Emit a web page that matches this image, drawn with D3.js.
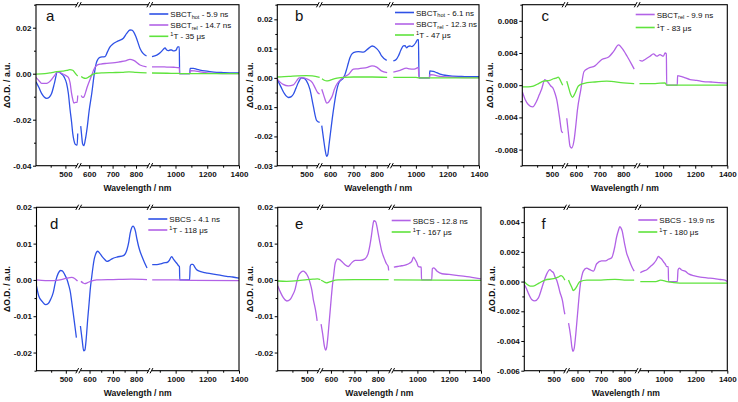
<!DOCTYPE html>
<html><head><meta charset="utf-8">
<script src="https://cdn.jsdelivr.net/npm/d3@7"></script>
<style>body{margin:0;background:#fff}svg{display:block}</style>
</head><body><svg id="c" width="738" height="402"></svg>
<script>
// ---------- x-axis segments (broken axis) ----------
const X_SEG1 = [400, 545], X_SEG2 = [555, 860], X_SEG3 = [840, 1400];
const X_TICKS = [[500], [600, 700, 800], [1000, 1200, 1400]];
const X_MINOR = [[450], [650, 750], [900, 1100, 1300]];

// ---------- panel a ----------
const aHotWl = [400,410,420,436,445,453,463,473,480,487,496,504,510,516,521,525,529,533,538,540,542,
  564,568,572,577,583,592,600,611,622,630,638,646,657,668,678,689,700,717,730,746,760,774,782,789,800,817,830,845,
  852,882,905,924,934,945,955,966,976,987,997,1006,1014,1024,1026,1090,1092,1113,1135,1154,1185,1217,1260,1300,1364,1400];
const aHotVal = [-0.0035,-0.006,-0.0088,-0.0107,-0.0102,-0.0086,-0.004,0.0009,0.0006,-0.0001,-0.0015,-0.0042,-0.0085,-0.0158,-0.021,-0.026,-0.029,-0.0306,-0.031,-0.031,-0.026,
  -0.0228,-0.027,-0.0305,-0.0313,-0.029,-0.023,-0.016,-0.0086,0.0,0.0045,0.0064,0.0071,0.0073,0.0074,0.0095,0.0117,0.0128,0.0139,0.0145,0.0154,0.0175,0.019,0.0189,0.0183,0.016,0.011,0.0088,0.0077,
  0.0074,0.0081,0.0092,0.0106,0.0112,0.0103,0.0100,0.0103,0.0103,0.0099,0.0100,0.0105,0.0117,0.0117,0.0,0.0,0.0023,0.0023,0.0019,0.0016,0.0012,0.0009,0.0006,0.0005,0.0004,0.0004];
const aRelWl = [400,410,419,436,453,463,473,485,499,510,516,521,525,529,534,540,542,
  566,572,578,585,592,600,611,620,632,650,675,700,732,755,774,790,817,845,
  852,900,945,990,1024,1026,1090,1092,1120,1154,1200,1259,1330,1400];
const aRelVal = [-0.0016,-0.003,-0.0042,-0.0042,-0.0025,-0.0008,0.0009,0.0003,-0.0006,-0.0016,-0.004,-0.0086,-0.0112,-0.0128,-0.0125,-0.0125,-0.0095,
  -0.0095,-0.0103,-0.0100,-0.008,-0.0057,-0.0035,-0.0006,0.0018,0.0036,0.0042,0.0045,0.0047,0.0052,0.0056,0.0062,0.0058,0.0038,0.003,
  0.003,0.003,0.0029,0.0028,0.0026,0.0,0.0,0.0013,0.0012,0.0008,0.0004,0.0001,0.0,0.0];
const aTWl = [400,430,450,470,490,505,515,525,532,538,542,
  566,575,585,600,615,630,660,700,740,770,800,845,
  852,950,1024,1026,1400];
const aTVal = [-0.0002,0.0,0.0004,0.0009,0.0011,0.0014,0.0018,0.0015,0.0005,-0.0005,-0.001,
  -0.0012,-0.0018,-0.002,-0.0013,-0.0003,0.0002,0.0004,0.0005,0.0006,0.0008,0.0006,0.0004,
  0.0003,0.0002,0.0001,0.0,0.0];
const aYTicks = [-0.04, -0.02, 0, 0.02];
const aYMinor = [-0.03, -0.01, 0.01, 0.03];

// ---------- panel b ----------
const bHotWl = [400,412,425,438,448,455,464,472,483,492,500,512,523,535,545,
  564,572,578,585,590,595,602,609,617,624,638,657,664,671,678,685,700,721,743,764,781,800,812,821,843,
  857,875,889,905,920,931,941,952,962,975,984,999,1011,1016,1020,1086,1088,1110,1131,1160,1184,1230,1290,1350,1400];
const bHotVal = [-0.0005,-0.003,-0.0055,-0.0067,-0.0064,-0.0056,-0.0035,-0.0016,0.0,-0.0002,-0.001,-0.004,-0.0095,-0.0146,-0.0152,
  -0.0163,-0.021,-0.0243,-0.0268,-0.0262,-0.023,-0.0185,-0.014,-0.0095,-0.006,-0.0016,0.0,0.0012,0.003,0.005,0.0069,0.0086,0.009,0.0088,0.010,0.0109,0.010,0.0088,0.0075,0.006,
  0.0058,0.0063,0.0075,0.0095,0.0109,0.011,0.0103,0.0108,0.0109,0.0107,0.011,0.012,0.0131,0.013,0.0,0.0,0.0024,0.0022,0.0018,0.0012,0.0009,0.0006,0.0005,0.0004,0.0004];
const bRelWl = [400,420,438,455,466,475,490,505,520,530,538,545,
  564,572,578,585,592,600,610,618,625,640,660,680,700,720,740,760,780,800,820,845,
  857,900,940,960,980,1000,1015,1020,1086,1088,1110,1150,1250,1400];
const bRelVal = [-0.0005,-0.0022,-0.0027,-0.0024,-0.001,0.0,0.0,-0.0005,-0.0016,-0.0035,-0.005,-0.0055,
  -0.0039,-0.0058,-0.0073,-0.0086,-0.0084,-0.0075,-0.006,-0.004,-0.0027,-0.001,0.0003,0.0012,0.003,0.0031,0.0033,0.0036,0.0041,0.0037,0.0024,0.0018,
  0.002,0.0026,0.0033,0.0031,0.003,0.0032,0.0036,0.0,0.0,0.0011,0.001,0.0005,0.0002,0.0001];
const bTWl = [400,440,470,500,520,545, 565,575,585,595,610,630,660,700,780,845, 857,1000,1020,1400];
const bTVal = [0.0003,0.0005,0.0007,0.0008,0.0007,0.0002, -0.0003,-0.0008,-0.001,-0.0009,-0.0005,-0.0001,0.0002,0.0003,0.0003,0.0002, 0.0002,0.0002,0.0,0.0];
const bYTicks = [-0.03, -0.02, -0.01, 0, 0.01, 0.02];
const bYMinor = [-0.025, -0.015, -0.005, 0.005, 0.015, 0.025];

// ---------- panel c ----------
const cRelWl = [400,410,420,435,448,457,465,476,488,496,504,510,516,525,533,537,
  561,568,575,582,592,600,606,620,634,652,680,709,738,759,780,794,816,837,846,
  852,870,887,918,939,960,980,1001,1012,1020,1022,1088,1090,1110,1126,1168,1210,1250,1300,1375,1400];
const cRelVal = [-0.0008,-0.0018,-0.0024,-0.0027,-0.002,-0.0012,-0.0005,0.0007,0.0003,-0.0001,-0.0004,-0.0010,-0.0018,-0.0039,-0.0058,-0.0059,
  -0.0041,-0.006,-0.0076,-0.0078,-0.0068,-0.0048,-0.0031,-0.0006,0.0017,0.0021,0.0024,0.0032,0.0035,0.0042,0.005,0.0046,0.0036,0.0025,0.002,
  0.0031,0.003,0.0032,0.0036,0.0039,0.0036,0.0038,0.0036,0.004,0.0039,0.0,0.0,0.0012,0.0011,0.001,0.0007,0.0006,0.00045,0.0004,0.0003,0.00025];
const cTWl = [400,420,437,455,471,493,505,516,521,527,532,536, 561,568,578,585,596,610,631,680,730,800,846, 852,950,1012,1022,1400];
const cTVal = [-0.0002,-0.0002,-0.0001,0.0002,0.0005,0.0006,0.0008,0.0009,0.001,0.0007,0.0003,0.0,
  0.0005,-0.0002,-0.0012,-0.0015,-0.001,-0.0001,0.0002,0.0004,0.0005,0.0003,0.0002, 0.0002,0.0002,0.0003,0.0,0.0];
const cYTicks = [-0.008, -0.004, 0, 0.004, 0.008];
const cYMinor = [-0.01, -0.006, -0.002, 0.002, 0.006, 0.01];

// ---------- panel d ----------
const dCsWl = [400,408,420,431,440,448,457,465,474,482,488,496,504,510,516,520,525,529,533,536,
  561,568,575,580,586,592,598,603,610,615,620,625,635,644,653,664,675,686,696,717,745,760,768,774,780,786,792,796,803,810,817,824,835,846,
  852,882,910,924,945,960,970,976,985,997,1010,1018,1024,1026,1088,1092,1100,1109,1120,1133,1150,1175,1200,1238,1280,1322,1360,1400];
const dCsVal = [-0.0017,-0.0045,-0.006,-0.0068,-0.0065,-0.0054,-0.0035,-0.0004,0.0018,0.0026,0.0025,0.0015,0.0001,-0.0015,-0.0036,-0.006,-0.009,-0.0115,-0.014,-0.0159,
  -0.0127,-0.0163,-0.0195,-0.0193,-0.016,-0.0109,-0.0065,-0.0026,0.0012,0.0037,0.0057,0.0069,0.0079,0.0073,0.0065,0.0057,0.0051,0.0054,0.0058,0.0063,0.0067,0.0083,0.0105,0.0129,0.0143,0.0148,0.0143,0.0135,0.0112,0.0092,0.0077,0.0065,0.0048,0.0033,
  0.0042,0.0042,0.0045,0.0047,0.0048,0.0054,0.0062,0.0064,0.0058,0.0051,0.0044,0.0039,0.0037,0.0,0.0,0.0038,0.0043,0.0043,0.0036,0.0028,0.0024,0.0021,0.0019,0.0016,0.0013,0.001,0.0008,0.0005];
const dTWl = [400,430,460,480,500,520,530,536,540, 563,572,580,590,600,615,630,700,780,846, 852,1000,1100,1400];
const dTVal = [0.0,-0.0002,-0.0002,0.0,0.0004,0.0007,0.0004,0.0,-0.0003, -0.0004,-0.0008,-0.001,-0.0008,-0.0005,-0.0002,0.0,0.0001,0.0002,0.0001, 0.0,0.0,-0.0001,-0.0002];
const dYTicks = [-0.02, -0.01, 0, 0.01, 0.02];
const dYMinor = [-0.025, -0.015, -0.005, 0.005, 0.015];

// ---------- panel e ----------
const eCsWl = [400,410,419,431,442,450,459,465,470,479,487,493,499,505,510,516,521,526,530,534,
  558,565,572,578,582,586,591,596,601,606,612,617,623,629,637,646,660,674,688,703,724,745,759,766,773,778,783,791,796,801,808,815,822,829,836,844,846,
  852,875,901,932,950,964,972,976,985,996,1006,1013,1024,1026,1090,1094,1103,1124,1155,1200,1258,1300,1342,1400];
const eCsVal = [-0.0016,-0.0035,-0.0049,-0.0058,-0.0054,-0.0043,-0.0026,-0.0005,0.001,0.0021,0.0024,0.0021,0.0015,0.0005,-0.0008,-0.0028,-0.0054,-0.0073,-0.009,-0.0113,
  -0.0122,-0.015,-0.0182,-0.0193,-0.0185,-0.0163,-0.0127,-0.009,-0.0052,-0.0017,0.0015,0.0042,0.0054,0.0058,0.0056,0.0051,0.0042,0.0037,0.0047,0.0054,0.0054,0.0058,0.0074,0.0095,0.0124,0.0148,0.0163,0.016,0.0147,0.0129,0.0105,0.0083,0.0068,0.0056,0.0045,0.0037,0.0026,
  0.0035,0.0037,0.0039,0.0042,0.0046,0.0051,0.006,0.0063,0.0057,0.0048,0.0037,0.0036,0.0035,0.0,0.0,0.0031,0.0033,0.0024,0.0017,0.0015,0.0012,0.001,0.0007,0.0003];
const eTWl = [400,430,470,500,520,535,545, 558,570,580,592,605,630,700,846, 852,1400];
const eTVal = [-0.0003,-0.0004,-0.0002,0.0001,0.0002,0.0003,0.0001, -0.0001,-0.0005,-0.0008,-0.0006,-0.0003,0.0,0.0001,0.0001, 0.0,-0.0001];
const eYTicks = [-0.02, -0.01, 0, 0.01, 0.02];
const eYMinor = [-0.025, -0.015, -0.005, 0.005, 0.015];

// ---------- panel f ----------
const fCsWl = [400,408,414,425,436,448,457,465,476,487,493,499,505,510,516,521,530,535,538,
  562,571,576,581,586,593,598,603,608,613,619,625,639,653,668,682,703,720,732,746,760,767,774,781,786,791,797,803,810,817,832,842,
  852,872,893,914,935,950,960,966,976,987,1000,1008,1019,1028,1030,1085,1090,1098,1110,1134,1160,1187,1230,1271,1320,1355,1385,1400];
const fCsVal = [-0.0002,-0.0005,-0.0008,-0.0012,-0.0013,-0.0011,-0.0006,-0.0001,0.0005,0.0008,0.0007,0.0006,0.0003,0.0001,-0.0003,-0.0007,-0.0013,-0.0019,-0.0022,
  -0.0028,-0.0037,-0.0044,-0.0047,-0.0045,-0.0035,-0.0026,-0.0017,-0.0008,-0.0001,0.0004,0.0007,0.0009,0.0008,0.0007,0.0012,0.0014,0.0014,0.0015,0.0016,0.0024,0.003,0.0034,0.0037,0.0036,0.0034,0.0029,0.0024,0.0019,0.0016,0.001,0.0007,
  0.0006,0.0007,0.0008,0.001,0.0012,0.0014,0.0016,0.0017,0.0016,0.0015,0.0013,0.0012,0.001,0.001,0.0,0.0,0.0008,0.0009,0.0008,0.0007,0.0005,0.0004,0.0003,0.00025,0.0002,0.00014,0.0001,0.0];
const fTWl = [400,410,420,430,450,470,500,515,525,532,538, 562,570,576,582,590,598,610,640,700,760,800,842, 852,950,980,1020,1100,1400];
const fTVal = [0.0,-0.0002,-0.0003,-0.0003,-0.0001,0.0001,0.0002,0.0003,0.0004,0.0003,0.0001,
  0.0001,-0.0002,-0.0004,-0.0006,-0.0005,-0.0003,0.0,0.0001,0.0001,0.00015,0.0001,0.0001, 0.0,0.0,0.0001,0.0,-0.0001,-0.0001];
const fYTicks = [-0.006, -0.004, -0.002, 0, 0.002, 0.004];
const fYMinor = [-0.005, -0.003, -0.001, 0.001, 0.003, 0.005];

// ---------- legend labels ----------
const BLUE = '#2f52e6', PURPLE = '#b262e6', GREEN = '#5fe33d';
const sbct = (sub, t) => [{t:'SBCT'}, {t:sub, sub:true}, {t:' - ' + t}];
const trip = t => [{t:'1', sup:true}, {t:'T - ' + t}];
const sbcs = t => [{t:'SBCS - ' + t}];

const FR = [0.21, 0.352, 0.438];
const panels = [
  {id:'a', x0:36, x1:239, y0:4.7, y1:165.7, yDom:[-0.04,0.03], yT:aYTicks, yM:aYMinor, fmt:'.2f', lx:46, ly:21, tx:7,
   leg:{x:149.3, rows:[14,25,36.3]},
   series:[{wl:aHotWl,v:aHotVal,c:BLUE,lab:sbct('hot','5.9 ns')},{wl:aRelWl,v:aRelVal,c:PURPLE,lab:sbct('rel','14.7 ns')},{wl:aTWl,v:aTVal,c:GREEN,lab:trip('35 \u03bcs')}]},
  {id:'b', x0:277.3, x1:479, y0:4.7, y1:165.7, yDom:[-0.03,0.025], yT:bYTicks, yM:bYMinor, fmt:'.2f', lx:295, ly:21, tx:250,
   leg:{x:395, rows:[12.5,24,35]},
   series:[{wl:bHotWl,v:bHotVal,c:BLUE,lab:sbct('hot','6.1 ns')},{wl:bRelWl,v:bRelVal,c:PURPLE,lab:sbct('rel','12.3 ns')},{wl:bTWl,v:bTVal,c:GREEN,lab:trip('47 \u03bcs')}]},
  {id:'c', x0:522.3, x1:727.3, y0:4.7, y1:165.7, yDom:[-0.01,0.01], yT:cYTicks, yM:cYMinor, fmt:'.3f', lx:541.5, ly:21, tx:490,
   leg:{x:635.7, rows:[14.5,27.5]},
   series:[{wl:cRelWl,v:cRelVal,c:PURPLE,lab:sbct('rel','9.9 ns')},{wl:cTWl,v:cTVal,c:GREEN,lab:trip('83 \u03bcs')}]},
  {id:'d', x0:36.5, x1:239, y0:207.3, y1:370.7, yDom:[-0.025,0.02], yT:dYTicks, yM:dYMinor, fmt:'.2f', lx:50, ly:228.5, tx:7,
   leg:{x:148.3, rows:[219,230]},
   series:[{wl:dCsWl,v:dCsVal,c:BLUE,lab:sbcs('4.1 ns')},{wl:dTWl,v:dTVal,c:PURPLE,lab:trip('118 \u03bcs')}]},
  {id:'e', x0:277.7, x1:481, y0:207.3, y1:370.7, yDom:[-0.025,0.02], yT:eYTicks, yM:eYMinor, fmt:'.2f', lx:295, ly:228.5, tx:250,
   leg:{x:391.7, rows:[220.5,232]},
   series:[{wl:eCsWl,v:eCsVal,c:PURPLE,lab:sbcs('12.8 ns')},{wl:eTWl,v:eTVal,c:GREEN,lab:trip('167 \u03bcs')}]},
  {id:'f', x0:524.3, x1:727.3, y0:207.3, y1:370.7, yDom:[-0.006,0.005], yT:fYTicks, yM:fYMinor, fmt:'.3f', lx:541.5, ly:228.5, tx:492,
   leg:{x:638.3, rows:[220,232]},
   series:[{wl:fCsWl,v:fCsVal,c:PURPLE,lab:sbcs('19.9 ns')},{wl:fTWl,v:fTVal,c:GREEN,lab:trip('180 \u03bcs')}]}
];

const FONT = '"Liberation Sans", Arial, Helvetica, sans-serif';
const svg = d3.select('#c');
const defs = svg.append('defs');
const segOf = w => w <= 550 ? 0 : (w <= 848 ? 1 : 2);

panels.forEach(p => {
  const g = svg.append('g');
  const W = p.x1 - p.x0, b1 = p.x0 + FR[0]*W, b2 = b1 + FR[1]*W;
  const xs = [
    d3.scaleLinear().domain(X_SEG1).range([p.x0, b1]),
    d3.scaleLinear().domain(X_SEG2).range([b1, b2]),
    d3.scaleLinear().domain(X_SEG3).range([b2, p.x1])
  ];
  const y = d3.scaleLinear().domain(p.yDom).range([p.y1, p.y0]);
  const clip = 'clip-' + p.id;
  defs.append('clipPath').attr('id', clip).append('rect')
    .attr('x', p.x0).attr('y', p.y0).attr('width', W).attr('height', p.y1 - p.y0);

  const line = d3.line().x(d => xs[d.s](d.w)).y(d => y(d.v)).curve(d3.curveMonotoneX);
  const dg = g.append('g').attr('clip-path', `url(#${clip})`);
  p.series.forEach(sr => {
    const pts = sr.wl.map((w, i) => ({w, v: sr.v[i], s: segOf(w)}));
    [0,1,2].forEach(s => {
      const sp = pts.filter(d => d.s === s);
      if (sp.length > 1) dg.append('path').attr('d', line(sp)).attr('fill','none')
        .attr('stroke', sr.c).attr('stroke-width', 1.3).attr('stroke-linejoin','round');
    });
  });

  // frame
  const fr = g.append('g').attr('stroke', '#000').attr('stroke-width', 1.1).attr('fill','none');
  fr.append('rect').attr('x', p.x0).attr('y', p.y0).attr('width', W).attr('height', p.y1 - p.y0);

  // x axes (ticks only)
  const fmtX = d3.format('d');
  [0,1,2].forEach(s => {
    const ax = g.append('g').attr('transform', `translate(0,${p.y1})`)
      .call(d3.axisBottom(xs[s]).tickValues(X_TICKS[s]).tickSize(3).tickPadding(3).tickFormat(fmtX));
    ax.select('.domain').remove();
    const mx = g.append('g').attr('transform', `translate(0,${p.y1})`)
      .call(d3.axisBottom(xs[s]).tickValues(X_MINOR[s]).tickSize(2).tickFormat(''));
    mx.select('.domain').remove();
  });
  // y axis
  const f0 = d3.format(p.fmt);
  const fmtY = v => f0(v).replace('\u2212', '-');
  const ay = g.append('g').attr('transform', `translate(${p.x0},0)`)
    .call(d3.axisLeft(y).tickValues(p.yT).tickSize(3).tickPadding(1.5).tickFormat(fmtY));
  ay.select('.domain').remove();
  const my = g.append('g').attr('transform', `translate(${p.x0},0)`)
    .call(d3.axisLeft(y).tickValues(p.yM).tickSize(2).tickFormat(''));
  my.select('.domain').remove();
  g.selectAll('.tick line').attr('stroke', '#000').attr('stroke-width', 1);
  g.selectAll('.tick text').attr('font-family', FONT).attr('font-size', 8).attr('font-weight', 'bold').attr('fill', '#111');

  // break marks on top and bottom
  [b1, b2].forEach(bx => {
    [p.y0, p.y1].forEach(yy => {
      g.append('rect').attr('x', bx - 1.6).attr('y', yy - 1).attr('width', 3.2).attr('height', 2).attr('fill', '#fff');
      [-1.8, 1.2].forEach(o => {
        g.append('line').attr('x1', bx + o - 1.4).attr('y1', yy + 2.6).attr('x2', bx + o + 1.4).attr('y2', yy - 2.6)
          .attr('stroke', '#000').attr('stroke-width', 1);
      });
    });
  });

  // titles
  g.append('text').attr('x', (p.x0 + p.x1) / 2).attr('y', p.y1 + 25.5).attr('text-anchor', 'middle')
    .attr('font-family', FONT).attr('font-size', 8.6).attr('font-weight', 'bold').attr('fill', '#111')
    .text('Wavelength / nm');
  g.append('text').attr('transform', `translate(${p.tx},${(p.y0 + p.y1) / 2}) rotate(-90)`)
    .attr('text-anchor', 'middle').attr('dominant-baseline', 'central')
    .attr('font-family', FONT).attr('font-size', 8.6).attr('font-weight', 'bold').attr('fill', '#111')
    .text('\u0394O.D. / a.u.');
  g.append('text').attr('x', p.lx).attr('y', p.ly).attr('font-family', FONT).attr('font-size', 15).attr('fill', '#111')
    .text(p.id);

  // legend
  p.series.forEach((sr, i) => {
    const ry = p.leg.rows[i];
    g.append('line').attr('x1', p.leg.x).attr('x2', p.leg.x + 19).attr('y1', ry).attr('y2', ry)
      .attr('stroke', sr.c).attr('stroke-width', 1.6);
    const t = g.append('text').attr('x', p.leg.x + 21).attr('y', ry + 3)
      .attr('font-family', FONT).attr('font-size', 8).attr('fill', '#111');
    sr.lab.forEach(part => {
      const ts = t.append('tspan').text(part.t);
      if (part.sub) ts.attr('font-size', 5.6).attr('dy', 1.8);
      else if (part.sup) ts.attr('font-size', 5.6).attr('dy', -3);
      else ts.attr('dy', 0);
    });
    // fix baseline after sub/sup
    let acc = 0;
    t.selectAll('tspan').each(function(d, k) {
      const part = sr.lab[k];
      const target = part.sub ? 1.8 : (part.sup ? -3 : 0);
      d3.select(this).attr('dy', target - acc);
      acc = target;
    });
  });
});
</script></body></html>
